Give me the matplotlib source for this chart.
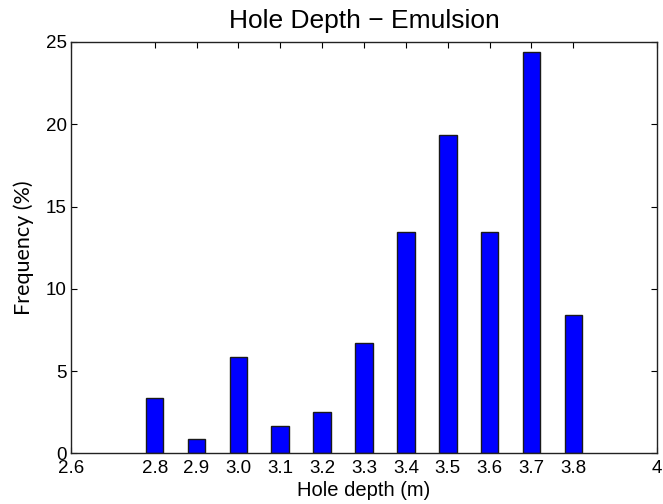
import matplotlib

matplotlib.use("Agg")
import matplotlib.pyplot as plt

# hole-depth bins (m) and hole counts per bin, 119 holes in total
depths = [2.8, 2.9, 3.0, 3.1, 3.2, 3.3, 3.4, 3.5, 3.6, 3.7, 3.8]
counts = [4, 1, 7, 2, 3, 8, 16, 23, 16, 29, 10]
total = sum(counts)
freq = [100.0 * c / total for c in counts]

xticks = [2.6, 2.8, 2.9, 3.0, 3.1, 3.2, 3.3, 3.4, 3.5, 3.6, 3.7, 3.8, 4.0]
xticklabels = ["2.6", "2.8", "2.9", "3.0", "3.1", "3.2", "3.3", "3.4",
               "3.5", "3.6", "3.7", "3.8", "4"]
yticks = [0, 5, 10, 15, 20, 25]

plt.rcParams["font.family"] = ["Liberation Sans", "DejaVu Sans"]

fig = plt.figure(figsize=(6.63, 5.04), dpi=100)
ax = fig.add_axes([0.107, 0.1006, 0.884, 0.8161])

ax.bar(depths, freq, width=0.042, color="#0000ff", edgecolor="#1a1a1a",
       linewidth=1.0, zorder=2)

ax.set_xlim(2.6, 4.0)
ax.set_ylim(0, 25)
ax.set_xticks(xticks)
ax.set_xticklabels(xticklabels)
ax.set_yticks(yticks)
ax.tick_params(direction="in", top=True, right=True, length=4.5, width=0.8,
               labelsize=13.5, colors="black")
ax.tick_params(axis="x", pad=4.5)
ax.tick_params(axis="y", pad=3)
for s in ax.spines.values():
    s.set_linewidth(1.0)
    s.set_color("#222222")

ax.set_title("Hole Depth \u2212 Emulsion", fontsize=19, pad=10)
ax.set_xlabel("Hole depth (m)", fontsize=14.5, labelpad=3)
ax.set_ylabel("Frequency (%)", fontsize=15.5, family=["Lato", "DejaVu Sans"],
              labelpad=8.5)

fig.savefig("out.png", dpi=100)
